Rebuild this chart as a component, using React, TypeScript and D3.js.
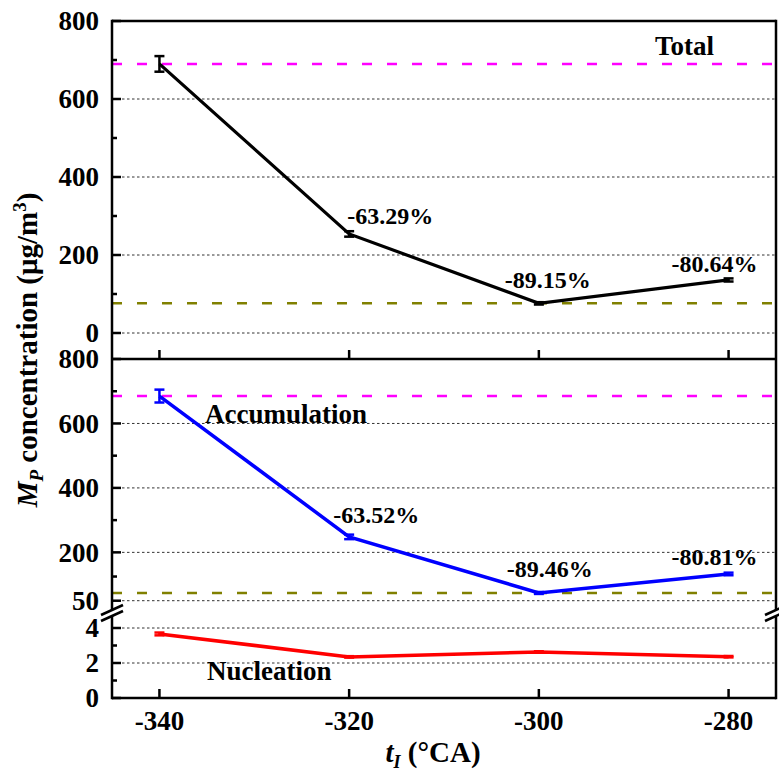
import React from "react";
import * as d3 from "d3";

const X_VALUES = [-340, -320, -300, -280];
const TOTAL = [690, 254, 76, 136];
const TOTAL_ERR = [20, 7, 3, 4];
const ACCUM = [685, 248, 74, 133];
const ACCUM_ERR = [20, 7, 3, 4];
const NUCL = [3.66, 2.35, 2.63, 2.36];
const NUCL_ERR = [0.08, 0.04, 0.04, 0.04];
const TOTAL_PCT = ["-63.29%", "-89.15%", "-80.64%"];
const ACCUM_PCT = ["-63.52%", "-89.46%", "-80.81%"];
const TOTAL_REF = [690, 76];
const ACCUM_REF = [685, 74];
const TOP_TICKS = [0, 200, 400, 600, 800];
const TOP_MINOR = [100, 300, 500, 700];
const TOP_GRID = [0, 200, 400, 600];
const ACC_TICKS = [50, 200, 400, 600, 800];
const ACC_MINOR = [125, 300, 500, 700];
const ACC_GRID = [50, 200, 400, 600];
const NUC_TICKS = [0, 2, 4];
const NUC_MINOR = [1, 3];
const NUC_GRID = [2, 4];

const FONT = "'Liberation Serif', 'Times New Roman', serif";

export default function App() {
  const L = 112, R = 776, T = 21, MID = 359, B = 698, BRK = 613;
  const x = d3.scaleLinear().domain([-345, -275]).range([L, R]);
  const yTop = d3.scaleLinear().domain([0, 800]).range([333, T]);
  const yAcc = d3.scaleLinear().domain([50, 800]).range([600.7, MID]);
  const yNuc = d3.scaleLinear().domain([0, 4]).range([B, 628]);

  const line = (ys: number[], y: (v: number) => number) =>
    d3.line<number>().x((_, i) => x(X_VALUES[i])).y((v) => y(v))(ys) || "";

  const grid = (vals: number[], y: (v: number) => number, k: string) =>
    vals.map((v) => (
      <line key={k + v} x1={L} x2={R} y1={y(v)} y2={y(v)} stroke="#333" strokeWidth={1} strokeDasharray="2.5,2.5" />
    ));

  const ticks = (vals: number[], y: (v: number) => number, k: string, len: number, labels: boolean) =>
    vals.map((v) => (
      <g key={k + v}>
        <line x1={L} x2={L + len} y1={y(v)} y2={y(v)} stroke="#000" strokeWidth={2.5} />
        {labels && (
          <text x={99} y={y(v)} dy="0.35em" textAnchor="end" fontSize={27} fontWeight="bold" fontFamily={FONT}>
            {v}
          </text>
        )}
      </g>
    ));

  const errs = (vals: number[], es: number[], y: (v: number) => number, color: string, k: string) =>
    vals.map((v, i) => {
      const cx = x(X_VALUES[i]);
      return (
        <g key={k + i} stroke={color} strokeWidth={2.5}>
          <line x1={cx} x2={cx} y1={y(v - es[i])} y2={y(v + es[i])} />
          <line x1={cx - 5} x2={cx + 5} y1={y(v - es[i])} y2={y(v - es[i])} />
          <line x1={cx - 5} x2={cx + 5} y1={y(v + es[i])} y2={y(v + es[i])} />
        </g>
      );
    });

  const refLine = (v: number, y: (v: number) => number, color: string, k: string) => (
    <line key={k} x1={L} x2={R} y1={y(v)} y2={y(v)} stroke={color} strokeWidth={2.5} strokeDasharray="10,15" />
  );

  const breakMark = (bx: number) => (
    <g key={"brk" + bx}>
      <polygon points={`${bx - 11},${BRK + 2} ${bx + 11},${BRK - 8} ${bx + 11},${BRK - 2} ${bx - 11},${BRK + 8}`} fill="#fff" />
      <line x1={bx - 11} x2={bx + 11} y1={BRK + 2} y2={BRK - 8} stroke="#000" strokeWidth={2.5} />
      <line x1={bx - 11} x2={bx + 11} y1={BRK + 8} y2={BRK - 2} stroke="#000" strokeWidth={2.5} />
    </g>
  );

  const pctStyle = { fontSize: 24, fontWeight: "bold" as const, fontFamily: FONT };

  return (
    <svg width={779} height={778} style={{ position: "absolute", left: 0, top: 0, background: "#fff" }}>
      <rect x={0} y={0} width={779} height={778} fill="#fff" />
      {grid(TOP_GRID, yTop, "gt")}
      {grid(ACC_GRID, yAcc, "ga")}
      {grid(NUC_GRID, yNuc, "gn")}
      {refLine(TOTAL_REF[0], yTop, "#ff00ff", "r1")}
      {refLine(TOTAL_REF[1], yTop, "#808000", "r2")}
      {refLine(ACCUM_REF[0], yAcc, "#ff00ff", "r3")}
      {refLine(ACCUM_REF[1], yAcc, "#808000", "r4")}
      <path d={line(TOTAL, yTop)} fill="none" stroke="#000" strokeWidth={3.2} />
      <path d={line(ACCUM, yAcc)} fill="none" stroke="#0000ff" strokeWidth={3.5} />
      <path d={line(NUCL, yNuc)} fill="none" stroke="#ff0000" strokeWidth={3.5} />
      {errs(TOTAL, TOTAL_ERR, yTop, "#000", "et")}
      {errs(ACCUM, ACCUM_ERR, yAcc, "#0000ff", "ea")}
      {errs(NUCL, NUCL_ERR, yNuc, "#ff0000", "en")}
      <line x1={L} x2={L} y1={T - 1.25} y2={B + 1.25} stroke="#000" strokeWidth={2.5} />
      <line x1={R} x2={R} y1={T - 1.25} y2={B + 1.25} stroke="#000" strokeWidth={2.5} />
      <line x1={L} x2={R} y1={T} y2={T} stroke="#000" strokeWidth={2.5} />
      <line x1={L} x2={R} y1={MID} y2={MID} stroke="#000" strokeWidth={2.5} />
      <line x1={L} x2={R} y1={B} y2={B} stroke="#000" strokeWidth={2.5} />
      {ticks(TOP_TICKS, yTop, "tt", 9, true)}
      {ticks(TOP_MINOR, yTop, "tm", 5, false)}
      {ticks(ACC_TICKS, yAcc, "at", 9, true)}
      {ticks(ACC_MINOR, yAcc, "am", 5, false)}
      {ticks(NUC_TICKS, yNuc, "nt", 9, true)}
      {ticks(NUC_MINOR, yNuc, "nm", 5, false)}
      {X_VALUES.map((v) => (
        <g key={"x" + v}>
          <line x1={x(v)} x2={x(v)} y1={B} y2={B - 9} stroke="#000" strokeWidth={2.5} />
          <line x1={x(v)} x2={x(v)} y1={MID} y2={MID - 9} stroke="#000" strokeWidth={2.5} />
          <text x={x(v)} y={730} textAnchor="middle" fontSize={27} fontWeight="bold" fontFamily={FONT}>
            {v}
          </text>
        </g>
      ))}
      {breakMark(L)}
      {breakMark(R)}
      <text x={655} y={55} fontSize={27} fontWeight="bold" fontFamily={FONT}>Total</text>
      <text x={205} y={423} fontSize={27} fontWeight="bold" fontFamily={FONT}>Accumulation</text>
      <text x={207} y={680} fontSize={27} fontWeight="bold" fontFamily={FONT}>Nucleation</text>
      <text x={x(X_VALUES[1]) - 2} y={yTop(TOTAL[1]) - 10} {...pctStyle}>{TOTAL_PCT[0]}</text>
      <text x={x(X_VALUES[2]) + 9} y={yTop(TOTAL[2]) - 15} textAnchor="middle" {...pctStyle}>{TOTAL_PCT[1]}</text>
      <text x={x(X_VALUES[3]) - 14} y={yTop(TOTAL[3]) - 8} textAnchor="middle" {...pctStyle}>{TOTAL_PCT[2]}</text>
      <text x={x(X_VALUES[1]) - 16} y={yAcc(ACCUM[1]) - 14} {...pctStyle}>{ACCUM_PCT[0]}</text>
      <text x={x(X_VALUES[2]) + 11} y={yAcc(ACCUM[2]) - 16} textAnchor="middle" {...pctStyle}>{ACCUM_PCT[1]}</text>
      <text x={x(X_VALUES[3]) - 14} y={yAcc(ACCUM[3]) - 9} textAnchor="middle" {...pctStyle}>{ACCUM_PCT[2]}</text>
      <text x={433} y={762} textAnchor="middle" fontSize={29} fontWeight="bold" fontFamily={FONT}>
        <tspan fontStyle="italic">t</tspan>
        <tspan fontStyle="italic" fontSize={18} dy={6}>I</tspan>
        <tspan dy={-6}> (°CA)</tspan>
      </text>
      <text transform="translate(37,350) rotate(-90)" textAnchor="middle" fontSize={29} fontWeight="bold" fontFamily={FONT}>
        <tspan fontStyle="italic">M</tspan>
        <tspan fontStyle="italic" fontSize={19} dy={6}>P</tspan>
        <tspan dy={-6}> concentration (μg/m</tspan>
        <tspan fontSize={19} dy={-11}>3</tspan>
        <tspan dy={11}>)</tspan>
      </text>
    </svg>
  );
}
